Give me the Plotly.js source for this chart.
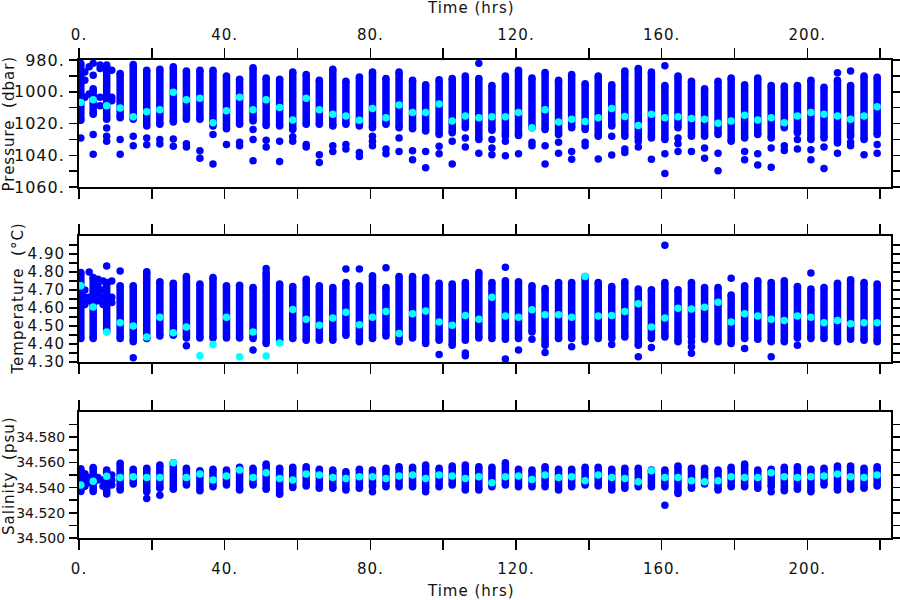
<!DOCTYPE html>
<html><head><meta charset="utf-8">
<script src="https://cdn.plot.ly/plotly-3.0.1.min.js"></script>
<style>
html,body{margin:0;padding:0;background:#fff;}
#chart{width:900px;height:600px;}
#chart svg text{letter-spacing:1px;}
#chart .xy3 .yaxislayer-above text{letter-spacing:0px;}
</style></head><body><div id="chart"></div>
<script>
// ---- regular profile columns (time, hrs) ----
const colTime = [11.3,14.9,18.6,22.2,25.9,29.5,33.2,36.8,40.5,44.1,47.8,51.4,55.1,58.7,62.4,66.0,69.7,73.3,77.0,80.6,84.3,87.9,91.6,95.2,98.9,102.5,106.1,109.8,113.4,117.1,120.7,124.4,128.0,131.7,135.3,139.0,142.6,146.3,149.9,153.6,157.2,160.9,164.5,168.2,171.8,175.5,179.1,182.8,186.4,190.1,193.7,197.3,201.0,204.6,208.3,211.9,215.6,219.2];

// ---- Pressure (dbar) ----
const presTop = [988.5,982.8,986.4,985.8,984.3,987.0,986.4,986.4,990.0,992.2,984.9,991.3,992.2,987.5,989.2,992.8,985.8,993.4,990.7,987.5,991.7,987.5,992.8,995.6,992.4,991.7,990.0,991.7,996.0,990.0,986.4,991.3,987.9,992.8,989.2,994.9,990.0,995.6,987.0,985.3,987.5,996.0,990.0,993.4,998.1,993.4,991.3,995.6,991.3,996.0,996.4,996.0,992.8,997.1,992.8,996.0,990.0,990.9];
const presBot = [1016.3,1017.3,1021.6,1020.5,1019.0,1017.3,1017.3,1021.6,1023.3,1020.5,1018.4,1021.2,1021.6,1023.7,1020.5,1020.5,1021.6,1020.5,1021.6,1022.7,1020.5,1022.7,1023.3,1024.8,1026.9,1025.9,1022.7,1030.1,1024.2,1028.0,1027.6,1022.7,1023.7,1026.9,1022.7,1023.7,1028.0,1021.6,1028.0,1029.1,1029.1,1030.1,1022.7,1028.0,1028.0,1026.9,1031.2,1029.1,1026.9,1029.1,1022.7,1025.9,1030.1,1029.1,1032.3,1028.0,1030.1,1026.9];
const presCyan = [1010.3,1015.8,1012.6,1011.4,1000.3,1005.0,1004.1,1019.5,1012.0,1003.5,1011.4,1005.0,1009.9,1017.8,1004.1,1011.4,1014.1,1015.2,1018.0,1010.5,1016.3,1008.4,1013.1,1013.1,1007.7,1018.4,1015.2,1016.3,1015.8,1015.8,1013.1,1022.7,1011.4,1019.0,1017.3,1018.8,1016.3,1010.5,1015.6,1021.2,1014.1,1016.3,1015.8,1016.9,1017.3,1019.9,1018.4,1014.8,1017.8,1016.3,1019.5,1015.2,1013.1,1014.1,1015.2,1017.3,1015.2,1009.4];
const presOutCol = [0,0, 1,1, 2,2, 3,3, 4,4, 5,5, 6,6, 7,7, 8, 9,9, 10,10,10, 11,11, 12,12, 13,13, 14,14, 15,15, 16,16, 17,17, 18,18, 19,19,19, 20,20, 21,21, 22,22, 23,23, 24,24, 25,25, 26,26, 27,27, 28,28,28, 29,29, 30, 31,31, 32,32, 33,33, 34,34, 35,35, 36, 37,37, 38,38, 39,39, 40, 41,41,41, 42,42,42, 43, 44,44, 45,45, 47,47, 48,48, 49,49, 50,50, 51,51, 52,52, 53,53, 54,54, 55,55,55, 56, 57,57];
const presOutVal = [1030.1,1039.3, 1028.0,1034.0, 1029.1,1033.4, 1030.1,1032.9, 1029.7,1034.4, 1032.7,1034.8, 1037.2,1041.9, 1026.9,1045.5, 1033.3, 1031.8,1034.0, 1023.7,1030.1,1043.4, 1030.6,1034.8, 1031.2,1044.0, 1028.4,1031.2, 1033.3,1034.8, 1039.7,1044.6, 1034.0,1037.6, 1033.3,1036.1, 1038.2,1040.8, 1028.0,1031.2,1034.0, 1036.1,1039.1, 1029.1,1037.6, 1037.2,1042.9, 1037.6,1047.8, 1034.4,1039.1, 1031.2,1045.5, 1029.1,1034.8, 982.1,1038.7, 1030.1,1035.5,1039.7, 1031.2,1040.3, 1039.1, 1031.8,1034.0, 1034.0,1045.5, 1031.8,1038.7, 1037.6,1042.5, 1031.8,1034.0, 1042.3, 1028.0,1039.9, 1036.1,1038.2, 1031.2,1034.8, 1042.5, 983.6,1039.1,1051.5, 1029.1,1032.7,1037.6, 1037.6, 1035.5,1041.9, 1038.7,1049.8, 1037.6,1042.9, 1039.1,1046.1, 1035.5,1047.6, 1034.0,1037.0, 1030.1,1036.1, 1036.5,1042.9, 1034.8,1048.3, 988.0,1038.7, 987.0,1031.8,1034.0, 1039.7, 1033.3,1038.7];

// ---- Temperature (degC) ----
const tempTop = [4.724,4.724,4.801,4.746,4.738,4.775,4.733,4.770,4.724,4.727,4.714,4.797,4.733,4.720,4.760,4.724,4.714,4.742,4.724,4.779,4.714,4.775,4.775,4.770,4.738,4.733,4.742,4.797,4.742,4.751,4.746,4.724,4.709,4.742,4.742,4.775,4.742,4.720,4.746,4.705,4.702,4.742,4.702,4.742,4.714,4.714,4.672,4.724,4.751,4.742,4.751,4.720,4.705,4.714,4.738,4.757,4.742,4.733];
const tempBot = [4.430,4.412,4.430,4.445,4.448,4.434,4.434,4.434,4.434,4.434,4.430,4.403,4.421,4.430,4.421,4.421,4.421,4.448,4.412,4.430,4.445,4.412,4.434,4.403,4.421,4.393,4.421,4.434,4.430,4.427,4.430,4.467,4.393,4.430,4.430,4.430,4.430,4.430,4.439,4.393,4.430,4.439,4.412,4.439,4.427,4.412,4.403,4.430,4.427,4.412,4.412,4.434,4.430,4.430,4.412,4.427,4.421,4.412];
const tempCyan = [4.518,4.500,4.439,4.549,4.463,4.494,4.335,4.397,4.549,4.329,4.467,4.333,4.406,4.592,4.537,4.504,4.544,4.577,4.507,4.549,4.581,4.458,4.568,4.584,4.522,4.504,4.559,4.537,4.660,4.555,4.549,4.590,4.562,4.562,4.549,4.775,4.555,4.559,4.581,4.623,4.494,4.544,4.599,4.595,4.604,4.632,4.522,4.568,4.555,4.537,4.531,4.555,4.549,4.518,4.531,4.513,4.518,4.518];
const tempOutCol = [0, 1, 5, 10, 11, 17, 18, 20, 24, 26,26, 29,29, 30, 31, 32, 34, 35, 37, 39, 40, 41, 43,43,43, 46, 47, 49, 51, 52];
const tempOutVal = [4.806, 4.324, 4.390, 4.366, 4.819, 4.816, 4.816, 4.823, 4.342, 4.350,4.335, 4.827,4.316, 4.366, 4.427, 4.353, 4.385, 4.412, 4.397, 4.329, 4.380, 4.948, 4.412,4.385,4.348, 4.765, 4.375, 4.329, 4.393, 4.794];

// ---- Salinity (psu) ----
const salTop = [34.5593,34.5545,34.5553,34.5579,34.5598,34.5553,34.5534,34.5545,34.5539,34.5561,34.5553,34.5587,34.5553,34.5561,34.5566,34.5545,34.5539,34.5526,34.5545,34.5539,34.5553,34.5566,34.5561,34.5579,34.5553,34.5571,34.5579,34.5566,34.5561,34.5598,34.5545,34.5539,34.5566,34.5545,34.5545,34.5561,34.5561,34.5545,34.5553,34.5553,34.5539,34.5539,34.5571,34.5553,34.5553,34.5539,34.5561,34.5587,34.5539,34.5545,34.5561,34.5566,34.5545,34.5553,34.5571,34.5571,34.5553,34.5566];
const salBot = [34.5380,34.5428,34.5367,34.5394,34.5386,34.5420,34.5375,34.5407,34.5420,34.5380,34.5420,34.5386,34.5348,34.5401,34.5412,34.5394,34.5394,34.5380,34.5394,34.5407,34.5407,34.5407,34.5407,34.5394,34.5407,34.5420,34.5380,34.5380,34.5407,34.5420,34.5407,34.5407,34.5407,34.5380,34.5407,34.5420,34.5412,34.5380,34.5394,34.5407,34.5407,34.5407,34.5354,34.5394,34.5428,34.5380,34.5407,34.5407,34.5394,34.5407,34.5375,34.5386,34.5367,34.5420,34.5380,34.5386,34.5394,34.5412];
const salCyan = [34.5481,34.5486,34.5481,34.5481,34.5598,34.5481,34.5508,34.5460,34.5492,34.5539,34.5481,34.5518,34.5473,34.5460,34.5508,34.5500,34.5481,34.5473,34.5486,34.5486,34.5473,34.5492,34.5500,34.5473,34.5500,34.5492,34.5473,34.5486,34.5439,34.5486,34.5492,34.5465,34.5500,34.5481,34.5486,34.5454,34.5500,34.5481,34.5473,34.5447,34.5534,34.5481,34.5481,34.5454,34.5447,34.5454,34.5486,34.5481,34.5481,34.5518,34.5486,34.5481,34.5486,34.5492,34.5508,34.5486,34.5481,34.5500];
const salOutCol = [2, 3, 19, 23, 41, 49];
const salOutVal = [34.5314, 34.5340, 34.5367, 34.5367, 34.5260, 34.5367];

// ---- early, irregular samples (first ~10 hrs) ----
const earlyRangeTime = [0.5, 3.9, 7.6];
const earlyPresTop = [982.1, 998.1, 983.2];
const earlyPresBot = [1018.0, 1014.1, 1017.3];
const earlyPresCyan = [1006.7, 1005.0, 1008.8];
const earlyPresPtTime = [0.5, 1.6,1.6,1.6, 2.8,2.8, 3.9,3.9,3.9,3.9, 5.8,5.8,5.8,5.8, 7.6,7.6,7.6, 9.0,9.0,9.0];
const earlyPresPtVal = [1029.1, 987.5,992.8,1003.5, 984.3,1001.4, 982.1,989.6,1026.9,1039.3, 983.2,985.3,1003.5,1008.8, 1022.9,1028.0,1031.2, 986.4,1003.5,1005.6];

const earlyTempTop = [4.797, 4.770, 4.742];
const earlyTempBot = [4.430, 4.430, 4.470];
const earlyTempCyan = [4.724, 4.605, 4.467];
const earlyTempPtTime = [1.6,1.6,1.6, 2.8,2.8,2.8, 5.2,5.2,5.2,5.2, 6.6,6.6,6.6,6.6, 7.6, 9.0,9.0,9.0];
const earlyTempPtVal = [4.70,4.66,4.62, 4.80,4.66,4.64, 4.76,4.72,4.68,4.64, 4.75,4.70,4.66,4.62, 4.834, 4.75,4.66,4.63];

const earlySalTop = [34.555, 34.556, 34.554];
const earlySalBot = [34.537, 34.537, 34.535];
const earlySalCyan = [34.542, 34.545, 34.549];
const earlySalPtTime = [1.6,1.6,1.6, 2.8,2.8, 5.2,5.2, 6.6,6.6, 9.0,9.0,9.0];
const earlySalPtVal = [34.551,34.546,34.541, 34.548,34.544, 34.548,34.546, 34.546,34.541, 34.550,34.546,34.542];

// ---- tick labels ----
const timeTicks = [0,20,40,60,80,100,120,140,160,180,200,220];
const timeTickText = ['0.','','40.','','80.','','120.','','160.','','200.',''];
const presTicks = [980,990,1000,1010,1020,1030,1040,1050,1060];
const presTickText = ['980.','','1000.','','1020.','','1040.','','1060.'];
const tempTicks = [4.30,4.35,4.40,4.45,4.50,4.55,4.60,4.65,4.70,4.75,4.80,4.85,4.90,4.95];
const tempTickText = ['4.30','','4.40','','4.50','','4.60','','4.70','','4.80','','4.90',''];
const salTicks = [34.50,34.51,34.52,34.53,34.54,34.55,34.56,34.57,34.58,34.59];
const salTickText = ['34.500','','34.520','','34.540','','34.560','','34.580',''];

// ---- build traces ----
const BLUE = '#0000ff', CYAN = '#00ffff', MS = 7.5;
function rangeTrace(times, tops, bots, xa, ya) {
  const x = [], y = [];
  for (let i = 0; i < times.length; i++) { x.push(times[i], times[i], null); y.push(tops[i], bots[i], null); }
  return {type:'scatter', mode:'lines+markers', x, y, xaxis:xa, yaxis:ya,
    line:{color:BLUE, width:MS}, marker:{color:BLUE, size:MS}, hoverinfo:'skip', showlegend:false};
}
function ptTrace(x, y, xa, ya, color) {
  return {type:'scatter', mode:'markers', x, y, xaxis:xa, yaxis:ya,
    marker:{color, size:MS}, hoverinfo:'skip', showlegend:false};
}
function outTrace(cols, vals, xa, ya) {
  const n = Math.min(cols.length, vals.length);
  return ptTrace(cols.slice(0,n).map(c => colTime[c]), vals.slice(0,n), xa, ya, BLUE);
}

const traces = [
  rangeTrace(colTime, presTop, presBot, 'x3', 'y'),
  rangeTrace(earlyRangeTime, earlyPresTop, earlyPresBot, 'x3', 'y'),
  outTrace(presOutCol, presOutVal, 'x3', 'y'),
  ptTrace(earlyPresPtTime, earlyPresPtVal, 'x3', 'y', BLUE),
  ptTrace(colTime, presCyan, 'x3', 'y', CYAN),
  ptTrace(earlyRangeTime, earlyPresCyan, 'x3', 'y', CYAN),
  rangeTrace(colTime, tempTop, tempBot, 'x2', 'y2'),
  rangeTrace(earlyRangeTime, earlyTempTop, earlyTempBot, 'x2', 'y2'),
  outTrace(tempOutCol, tempOutVal, 'x2', 'y2'),
  ptTrace(earlyTempPtTime, earlyTempPtVal, 'x2', 'y2', BLUE),
  ptTrace(colTime, tempCyan, 'x2', 'y2', CYAN),
  ptTrace(earlyRangeTime, earlyTempCyan, 'x2', 'y2', CYAN),
  rangeTrace(colTime, salTop, salBot, 'x', 'y3'),
  rangeTrace(earlyRangeTime, earlySalTop, earlySalBot, 'x', 'y3'),
  outTrace(salOutCol, salOutVal, 'x', 'y3'),
  ptTrace(earlySalPtTime, earlySalPtVal, 'x', 'y3', BLUE),
  ptTrace(colTime, salCyan, 'x', 'y3', CYAN),
  ptTrace(earlyRangeTime, earlySalCyan, 'x', 'y3', CYAN),
];

const FONT = {family:'DejaVu Sans, sans-serif', size:15, color:'#111'};
const FONT_P = {family:'DejaVu Sans, sans-serif', size:16, color:'#111'};
const FONT_S = {family:'DejaVu Sans, sans-serif', size:14, color:'#111'};
const axBase = {showgrid:false, zeroline:false, showline:true, linecolor:'#000', linewidth:2,
  mirror:'ticks', ticks:'outside', tickcolor:'#000', tickwidth:1.5, tickfont:FONT};
const xBase = Object.assign({}, axBase, {range:[0,223], tickmode:'array', tickvals:timeTicks, ticktext:timeTickText, ticklen:10});

const layout = {
  width:900, height:600, paper_bgcolor:'#fff', plot_bgcolor:'#fff',
  margin:{l:79, r:9, t:60, b:62}, showlegend:false, font:FONT,
  xaxis: Object.assign({}, xBase, {anchor:'y3', side:'bottom', ticklabelstandoff:6}),
  xaxis2: Object.assign({}, xBase, {anchor:'y2', showticklabels:false}),
  xaxis3: Object.assign({}, xBase, {anchor:'y', side:'top', ticklabelstandoff:2}),
  yaxis: Object.assign({}, axBase, {domain:[0.7343,1], anchor:'x3', range:[1060,980], tickmode:'array', tickvals:presTicks, ticktext:presTickText, ticklen:8, ticklabelstandoff:1, tickfont:FONT_P}),
  yaxis2: Object.assign({}, axBase, {domain:[0.3682,0.6318], anchor:'x2', range:[4.30,5.00], tickmode:'array', tickvals:tempTicks, ticktext:tempTickText, ticklen:8, ticklabelstandoff:1}),
  yaxis3: Object.assign({}, axBase, {domain:[0,0.2636], anchor:'x', range:[34.5,34.6], tickmode:'array', tickvals:salTicks, ticktext:salTickText, ticklen:8, ticklabelstandoff:1, tickfont:FONT_S}),
  annotations: [
    {text:'Time (hrs)', xref:'paper', yref:'paper', x:0.4828, y:1.1088, xanchor:'center', yanchor:'middle', showarrow:false, font:FONT},
    {text:'Time (hrs)', xref:'paper', yref:'paper', x:0.4828, y:-0.1109, xanchor:'center', yanchor:'middle', showarrow:false, font:FONT},
    {text:'Pressure  (dbar)', xref:'paper', yref:'paper', x:-0.0862, y:0.8672, xanchor:'center', yanchor:'middle', textangle:-90, showarrow:false, font:FONT},
    {text:'Temperature  (°C)', xref:'paper', yref:'paper', x:-0.0751, y:0.5, xanchor:'center', yanchor:'middle', textangle:-90, showarrow:false, font:FONT},
    {text:'Salinity  (psu)', xref:'paper', yref:'paper', x:-0.0856, y:0.1318, xanchor:'center', yanchor:'middle', textangle:-90, showarrow:false, font:FONT},
  ]
};

Plotly.newPlot('chart', traces, layout, {displayModeBar:false, staticPlot:true});
</script></body></html>
